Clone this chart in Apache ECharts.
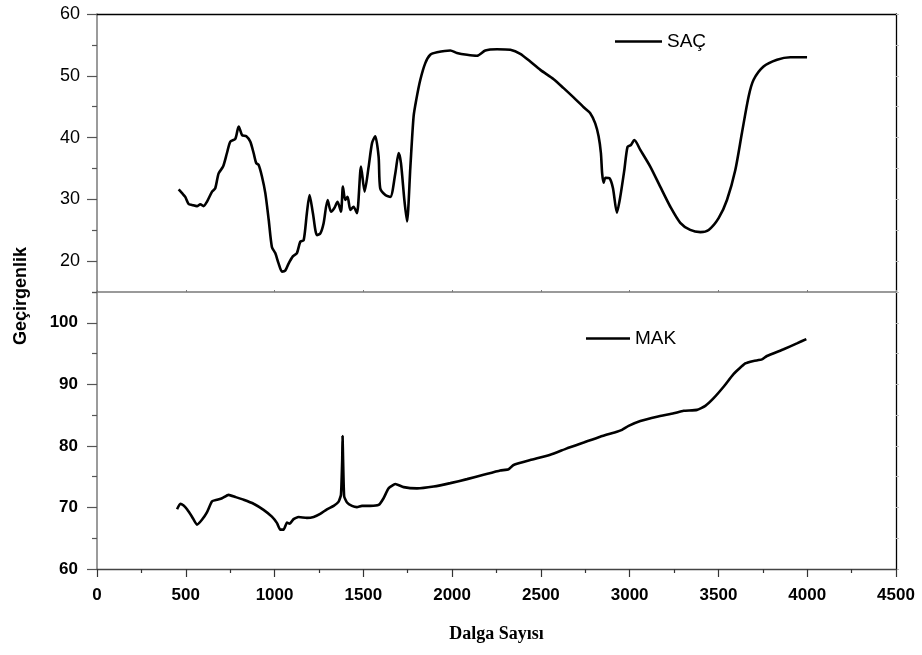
<!DOCTYPE html>
<html>
<head>
<meta charset="utf-8">
<script src="https://cdn.jsdelivr.net/npm/echarts@6/dist/echarts.min.js"></script>
<style>
  html, body { margin: 0; padding: 0; background: #ffffff; }
  #chart { width: 922px; height: 655px; }
</style>
</head>
<body>
<div id="chart"></div>
<script>
// FTIR spectra: hair (SAÇ) in the upper panel, MAK in the lower panel
const sacWavenumber = [460, 479, 497, 516, 535, 563, 582, 600, 619, 648, 666, 685, 710, 732, 751, 779, 798, 817, 841, 863, 882, 897, 910, 929, 948, 967, 985, 1004, 1023, 1042, 1060, 1079, 1104, 1126, 1145, 1164, 1182, 1197, 1216, 1239, 1258, 1276, 1299, 1318, 1336, 1355, 1374, 1385, 1398, 1411, 1427, 1445, 1464, 1487, 1507, 1530, 1549, 1567, 1586, 1595, 1624, 1652, 1680, 1699, 1712, 1731, 1746, 1765, 1783, 1798, 1821, 1849, 1877, 1915, 1990, 2027, 2084, 2140, 2187, 2253, 2328, 2384, 2440, 2497, 2572, 2628, 2684, 2741, 2778, 2806, 2825, 2838, 2845, 2853, 2864, 2887, 2906, 2928, 2947, 2970, 2988, 3007, 3026, 3060, 3116, 3172, 3229, 3285, 3341, 3398, 3445, 3501, 3548, 3595, 3632, 3670, 3698, 3754, 3830, 3905, 3999];
const sacTransmittance = [31.6, 31.0, 30.4, 29.25, 29.1, 28.9, 29.2, 28.9, 29.6, 31.25, 31.8, 34.2, 35.3, 37.5, 39.35, 39.8, 41.8, 40.4, 40.2, 39.35, 37.5, 35.85, 35.6, 33.7, 31.0, 26.7, 22.3, 21.3, 19.6, 18.3, 18.45, 19.6, 20.8, 21.3, 23.15, 23.4, 27.75, 30.7, 27.75, 24.2, 24.5, 26.1, 29.9, 28.0, 28.55, 29.6, 28.0, 32.05, 29.9, 30.4, 28.3, 28.8, 27.75, 35.3, 31.25, 35.3, 39.1, 40.2, 36.9, 31.8, 30.7, 30.4, 34.2, 37.5, 35.85, 29.9, 26.4, 35.3, 43.4, 46.1, 49.35, 52.05, 53.4, 53.8, 54.1, 53.7, 53.4, 53.25, 54.1, 54.3, 54.2, 53.55, 52.3, 50.95, 49.45, 48.0, 46.5, 44.9, 43.95, 42.3, 40.2, 37.5, 34.2, 32.7, 33.5, 33.4, 31.8, 27.85, 30.4, 34.75, 38.5, 38.8, 39.6, 38.0, 35.3, 32.05, 28.8, 26.2, 25.05, 24.7, 25.05, 26.95, 29.9, 34.75, 40.7, 46.65, 49.35, 51.5, 52.6, 53.0, 53.0];

const makWavenumber = [451, 469, 488, 507, 535, 563, 591, 619, 648, 676, 704, 741, 779, 826, 882, 938, 985, 1014, 1032, 1051, 1070, 1085, 1107, 1135, 1182, 1220, 1257, 1295, 1333, 1361, 1374, 1381, 1383, 1386, 1392, 1408, 1436, 1464, 1492, 1539, 1586, 1614, 1642, 1680, 1727, 1802, 1896, 1990, 2084, 2177, 2271, 2318, 2346, 2440, 2553, 2647, 2741, 2834, 2928, 2957, 2994, 3060, 3154, 3248, 3304, 3379, 3426, 3473, 3529, 3586, 3651, 3698, 3745, 3773, 3867, 3942, 3995];
const makTransmittance = [69.7, 70.6, 70.3, 69.7, 68.5, 67.2, 68.0, 69.2, 71.0, 71.25, 71.5, 72.05, 71.7, 71.25, 70.6, 69.6, 68.5, 67.45, 66.4, 66.4, 67.55, 67.35, 68.1, 68.45, 68.3, 68.45, 68.95, 69.7, 70.25, 70.95, 72.05, 77.7, 81.6, 77.7, 71.8, 70.8, 70.25, 70.05, 70.25, 70.25, 70.4, 71.5, 73.1, 73.8, 73.3, 73.1, 73.4, 73.95, 74.6, 75.3, 76.0, 76.2, 76.9, 77.7, 78.55, 79.6, 80.55, 81.5, 82.3, 82.6, 83.25, 84.05, 84.75, 85.3, 85.7, 85.85, 86.5, 87.75, 89.6, 91.7, 93.4, 93.8, 94.05, 94.6, 95.7, 96.65, 97.35];

// Axis ticks and labels
const xTicks = [0, 500, 1000, 1500, 2000, 2500, 3000, 3500, 4000, 4500];
const xMinorTicks = [250, 750, 1250, 1750, 2250, 2750, 3250, 3750, 4250];
const sacTicks = [20, 30, 40, 50, 60];
const sacMinorTicks = [15, 25, 35, 45, 55];
const makTicks = [60, 70, 80, 90, 100];
const makMinorTicks = [65, 75, 85, 95, 105];

const sacData = sacWavenumber.map((w, i) => [w, sacTransmittance[i]]);
const makData = makWavenumber.map((w, i) => [w, makTransmittance[i]]);

const SANS = '"Liberation Sans", Arial, sans-serif';
const SERIF = '"Liberation Serif", "Times New Roman", serif';

const chart = echarts.init(document.getElementById('chart'), null, { renderer: 'canvas' });

const hidden = { show: false };
const plain = v => String(v);

chart.setOption({
  backgroundColor: '#ffffff',
  animation: false,
  grid: [
    { left: 97, width: 799, top: 14, height: 278 },
    { left: 97, width: 799, top: 292, height: 277 }
  ],
  xAxis: [
    { // separator between panels
      gridIndex: 0, type: 'value', position: 'bottom', min: 0, max: 4500,
      axisLine: { show: true, lineStyle: { color: '#7a7a7a', width: 1.5 } },
      axisTick: { show: true, inside: true, length: 2, customValues: xTicks, lineStyle: { color: '#7a7a7a' } },
      axisLabel: hidden, splitLine: hidden
    },
    { // top frame
      gridIndex: 0, type: 'value', position: 'top', min: 0, max: 4500,
      axisLine: { show: true, lineStyle: { color: '#000', width: 1.3 } },
      axisTick: hidden, axisLabel: hidden, splitLine: hidden
    },
    { // main wavenumber axis
      gridIndex: 1, type: 'value', position: 'bottom', min: 0, max: 4500,
      axisLine: { show: true, lineStyle: { color: '#444', width: 1.3 } },
      axisTick: { show: true, length: 8, customValues: xTicks, lineStyle: { color: '#333', width: 1.2 } },
      axisLabel: { show: true, customValues: xTicks, formatter: plain, margin: 18, color: '#000', fontSize: 17, fontWeight: 'bold', fontFamily: SANS },
      splitLine: hidden,
      name: 'Dalga Sayısı', nameLocation: 'middle', nameGap: 56,
      nameTextStyle: { color: '#000', fontSize: 18, fontWeight: 'bold', fontFamily: SERIF }
    },
    { // minor wavenumber ticks
      gridIndex: 1, type: 'value', position: 'bottom', min: 0, max: 4500,
      axisLine: hidden,
      axisTick: { show: true, length: 4, customValues: xMinorTicks, lineStyle: { color: '#333', width: 1.2 } },
      axisLabel: hidden, splitLine: hidden
    }
  ],
  yAxis: [
    { // SAÇ panel, major
      gridIndex: 0, type: 'value', position: 'left', min: 15, max: 60,
      axisLine: { show: true, lineStyle: { color: '#7a7a7a', width: 1.5 } },
      axisTick: { show: true, length: 10, customValues: sacTicks, lineStyle: { color: '#555', width: 1.2 } },
      axisLabel: { show: true, customValues: sacTicks, formatter: plain, margin: 17, color: '#000', fontSize: 18, fontFamily: SANS },
      splitLine: hidden
    },
    { // SAÇ panel, minor
      gridIndex: 0, type: 'value', position: 'left', min: 15, max: 60,
      axisLine: hidden,
      axisTick: { show: true, length: 5, customValues: sacMinorTicks, lineStyle: { color: '#555', width: 1.2 } },
      axisLabel: hidden, splitLine: hidden
    },
    { // SAÇ panel, right frame
      gridIndex: 0, type: 'value', position: 'right', min: 15, max: 60,
      axisLine: { show: true, lineStyle: { color: '#000', width: 1.3 } },
      axisTick: { show: true, length: 3, customValues: sacTicks.concat(sacMinorTicks), lineStyle: { color: '#bbb' } },
      axisLabel: hidden, splitLine: hidden
    },
    { // MAK panel, major
      gridIndex: 1, type: 'value', position: 'left', min: 60, max: 105,
      axisLine: { show: true, lineStyle: { color: '#7a7a7a', width: 1.5 } },
      axisTick: { show: true, length: 10, customValues: makTicks, lineStyle: { color: '#555', width: 1.2 } },
      axisLabel: { show: true, customValues: makTicks, formatter: plain, margin: 19, color: '#000', fontSize: 17, fontWeight: 'bold', fontFamily: SANS },
      splitLine: hidden
    },
    { // MAK panel, minor
      gridIndex: 1, type: 'value', position: 'left', min: 60, max: 105,
      axisLine: hidden,
      axisTick: { show: true, length: 5, customValues: makMinorTicks, lineStyle: { color: '#555', width: 1.2 } },
      axisLabel: hidden, splitLine: hidden
    },
    { // MAK panel, right frame
      gridIndex: 1, type: 'value', position: 'right', min: 60, max: 105,
      axisLine: { show: true, lineStyle: { color: '#000', width: 1.3 } },
      axisTick: { show: true, length: 3, customValues: makTicks.concat(makMinorTicks), lineStyle: { color: '#bbb' } },
      axisLabel: hidden, splitLine: hidden
    }
  ],
  legend: [
    {
      data: ['SAÇ'], left: 615, top: 32, orient: 'horizontal', padding: 0,
      icon: 'rect', itemWidth: 47, itemHeight: 2.5,
      textStyle: { color: '#000', fontSize: 19, fontFamily: SANS }
    },
    {
      data: ['MAK'], left: 586, top: 329, orient: 'horizontal', padding: 0,
      icon: 'rect', itemWidth: 44, itemHeight: 2.5,
      textStyle: { color: '#000', fontSize: 19, fontFamily: SANS }
    }
  ],
  graphic: [
    {
      type: 'text', x: 21, y: 296, rotation: Math.PI / 2,
      style: {
        text: 'Geçirgenlik', align: 'center', verticalAlign: 'middle',
        fill: '#000', font: 'bold 18px "Liberation Sans", Arial, sans-serif'
      }
    }
  ],
  series: [
    {
      name: 'SAÇ', type: 'line', xAxisIndex: 0, yAxisIndex: 0,
      data: sacData, showSymbol: false, symbol: 'none', smooth: 0.25,
      lineStyle: { color: '#000', width: 2.6 }, itemStyle: { color: '#000' }
    },
    {
      name: 'MAK', type: 'line', xAxisIndex: 2, yAxisIndex: 3,
      data: makData, showSymbol: false, symbol: 'none', smooth: 0.15,
      lineStyle: { color: '#000', width: 2.6 }, itemStyle: { color: '#000' }
    }
  ]
});
</script>
</body>
</html>
